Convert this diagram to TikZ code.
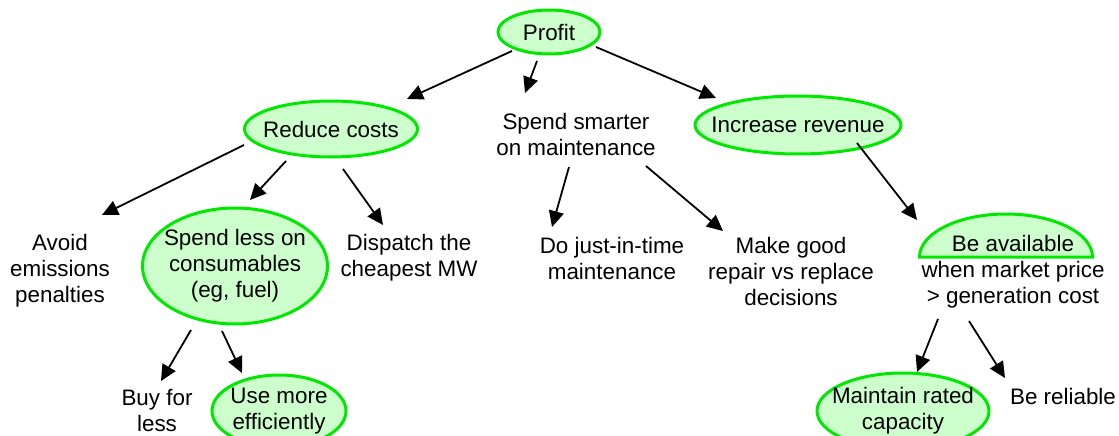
\documentclass[tikz,border=0pt]{standalone}
\usepackage{fontspec}
\setmainfont{Liberation Sans}
\usetikzlibrary{arrows.meta,shapes.geometric,calc}
\definecolor{edgegreen}{RGB}{0,232,0}
\definecolor{fillgreen}{RGB}{204,255,204}
\begin{document}
\begin{tikzpicture}[x=1pt,y=-1pt,
  txt/.style={font=\fontsize{22.4}{26}\selectfont, align=center, inner sep=0pt, text=black},
  goal/.style={txt, ellipse, draw=edgegreen, fill=fillgreen, line width=3pt, inner sep=-45pt},
  arr/.style={-{Triangle[length=16pt,width=15pt]}, line width=1.8pt, black}]
\useasboundingbox (0,0) rectangle (1119,436);
\clip (0,0) rectangle (1119,436);

% goal ellipses and texts
\node[goal, minimum width=102pt, minimum height=44pt] (profit) at (549,32) {Profit};
\node[goal, minimum width=173pt, minimum height=56pt] (reduce) at (331,129) {Reduce costs};
\node[txt] (smarter) at (576,134) {Spend smarter\\on maintenance};
\node[goal, minimum width=206pt, minimum height=58pt] (increase) at (798,125) {Increase revenue};

\node[txt] (avoid) at (60,271) {Avoid\\emissions\\penalties};
\node[goal, minimum width=185pt, minimum height=116pt] (spendless) at (235,266) {\raisebox{-4pt}{\begin{tabular}{@{}c@{}}Spend less on\\consumables\\(eg, fuel)\end{tabular}}};
\node[txt] (dispatch) at (409,258) {Dispatch the\\cheapest MW};
\node[txt] (dojit) at (612,258) {Do just-in-time\\maintenance};
\node[txt] (makegood) at (791,271) {Make good\\repair vs replace\\decisions};

\filldraw[draw=edgegreen, fill=fillgreen, line width=3pt]
  (919.5,257) arc[start angle=-180, end angle=0, x radius=86.5, y radius=43] -- cycle;
\node[txt] (avail) at (1013,272) {Be available\\when market price\\> generation cost};

\node[txt] (buy) at (157,411) {Buy for\\less};
\node[goal, minimum width=134pt, minimum height=72pt] (usemore) at (279,411) {Use more\\efficiently};
\node[goal, minimum width=172pt, minimum height=76pt] (maintain) at (903,411) {Maintain rated\\capacity};
\node[txt] (reliable) at (1063,396) {Be reliable};

% connectors
\draw[arr] ($(profit)+(-37,19)$) -- ($(reduce)+(76,-30)$);
\draw[arr] ($(profit)+(-12,29)$) -- ($(smarter)+(-51,-41)$);
\draw[arr] ($(profit)+(47,15)$) -- ($(increase)+(-82,-27)$);
\draw[arr] ($(reduce)+(-87,16)$) -- ($(avoid)+(42,-56)$);
\draw[arr] ($(reduce)+(-45,32)$) -- ($(spendless)+(15,-66)$);
\draw[arr] ($(reduce)+(12,40)$) -- ($(dispatch)+(-26,-33)$);
\draw[arr] ($(spendless)+(-44,64)$) -- ($(buy)+(4,-30)$);
\draw[arr] ($(spendless)+(-13,65)$) -- ($(usemore)+(-37,-38)$);
\draw[arr] ($(smarter)+(-7,33)$) -- ($(dojit)+(-60,-31)$);
\draw[arr] ($(smarter)+(70,32)$) -- ($(makegood)+(-68,-40)$);
\draw[arr] ($(increase)+(59,18)$) -- ($(avail)+(-96,-52)$);
\draw[arr] ($(avail)+(-75,47)$) -- ($(maintain)+(14,-39)$);
\draw[arr] ($(avail)+(-44,49)$) -- ($(reliable)+(-58,-18)$);
\end{tikzpicture}
\end{document}
